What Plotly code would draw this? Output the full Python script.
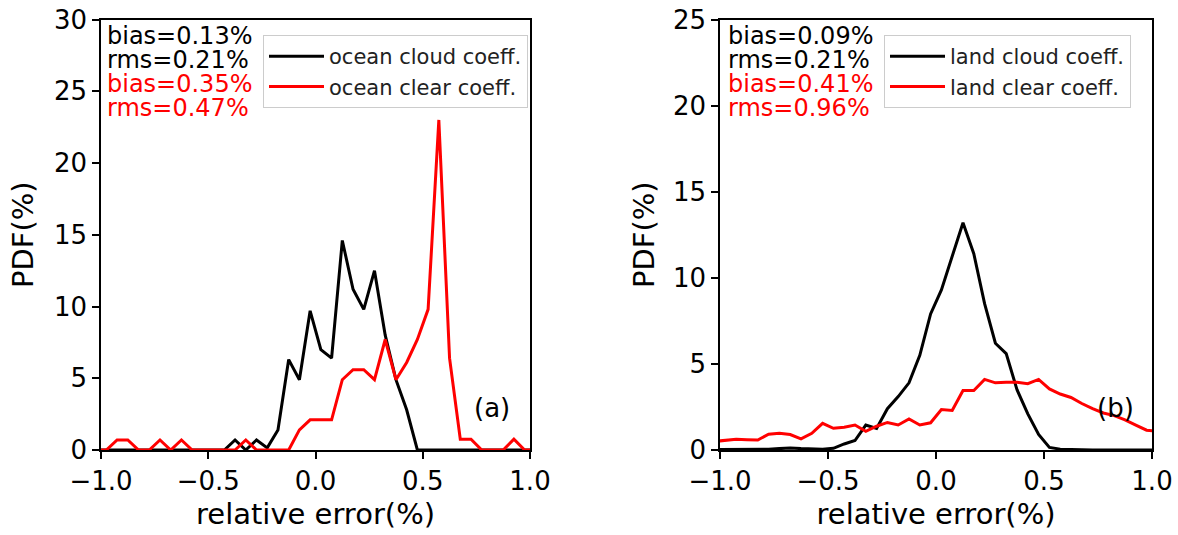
import plotly.graph_objects as go

# ---------------- data ----------------
bin_centers = [-1.025, -0.975, -0.925, -0.875, -0.825, -0.775, -0.725, -0.675, -0.625, -0.575,
               -0.525, -0.475, -0.425, -0.375, -0.325, -0.275, -0.225, -0.175, -0.125, -0.075,
               -0.025, 0.025, 0.075, 0.125, 0.175, 0.225, 0.275, 0.325, 0.375, 0.425,
               0.475, 0.525, 0.575, 0.625, 0.675, 0.725, 0.775, 0.825, 0.875, 0.925,
               0.975, 1.025]

ocean_cloud = [0, 0, 0, 0, 0, 0, 0, 0, 0, 0,
               0, 0, 0, 0.7, 0, 0.7, 0.15, 1.4, 6.3, 4.9,
               9.7, 7.0, 6.4, 14.6, 11.2, 9.8, 12.5, 8.0, 4.9, 2.8,
               0, 0, 0, 0, 0, 0, 0, 0, 0, 0,
               0, 0]
ocean_clear = [0, 0, 0.7, 0.7, 0, 0, 0.7, 0, 0.7, 0,
               0, 0, 0, 0, 0.7, 0, 0, 0, 0, 1.4,
               2.1, 2.1, 2.1, 4.9, 5.6, 5.6, 4.9, 7.7, 4.9, 6.1,
               7.7, 9.8, 23.0, 6.4, 0.75, 0.75, 0, 0, 0, 0.75,
               0, 0]
land_cloud = [0.02, 0.02, 0.02, 0.02, 0.03, 0.05, 0.08, 0.12, 0.08, 0.08,
              0.05, 0.1, 0.35, 0.55, 1.45, 1.25, 2.4, 3.1, 3.9, 5.5,
              7.9, 9.3, 11.2, 13.2, 11.4, 8.5, 6.2, 5.6, 3.5, 2.1,
              0.9, 0.15, 0.05, 0.02, 0.01, 0, 0, 0, 0, 0,
              0, 0]
land_clear = [0.5, 0.55, 0.62, 0.6, 0.58, 0.92, 0.97, 0.9, 0.65, 0.97,
              1.55, 1.26, 1.32, 1.45, 1.08, 1.38, 1.6, 1.45, 1.8, 1.45,
              1.58, 2.35, 2.3, 3.45, 3.45, 4.1, 3.9, 3.93, 3.93, 3.85,
              4.1, 3.55, 3.25, 3.05, 2.7, 2.4, 2.15, 2.0, 1.75, 1.45,
              1.15, 1.1]

series_names_a = ["ocean cloud coeff.", "ocean clear coeff."]
series_names_b = ["land cloud coeff.", "land clear coeff."]
stats_a = ["bias=0.13%", "rms=0.21%", "bias=0.35%", "rms=0.47%"]
stats_b = ["bias=0.09%", "rms=0.21%", "bias=0.41%", "rms=0.96%"]
stats_colors = ["black", "black", "red", "red"]

x_tick_vals = [-1.0, -0.5, 0.0, 0.5, 1.0]
x_tick_text = ["\u22121.0", "\u22120.5", "0.0", "0.5", "1.0"]
y_ticks_a = [0, 5, 10, 15, 20, 25, 30]
y_ticks_b = [0, 5, 10, 15, 20, 25]
x_title = "relative error(%)"
y_title = "PDF(%)"

# ---------------- layout helpers ----------------
W, H = 1178, 535
FONT = "DejaVu Sans"


def pxx(x):
    return x / W


def pyy(y):
    return (H - y) / H


fig = go.Figure()
fig.add_trace(go.Scatter(x=bin_centers, y=ocean_cloud, mode="lines", name=series_names_a[0],
                         line=dict(color="black", width=3), xaxis="x", yaxis="y", legend="legend"))
fig.add_trace(go.Scatter(x=bin_centers, y=ocean_clear, mode="lines", name=series_names_a[1],
                         line=dict(color="red", width=3), xaxis="x", yaxis="y", legend="legend"))
fig.add_trace(go.Scatter(x=bin_centers, y=land_cloud, mode="lines", name=series_names_b[0],
                         line=dict(color="black", width=3), xaxis="x2", yaxis="y2", legend="legend2"))
fig.add_trace(go.Scatter(x=bin_centers, y=land_clear, mode="lines", name=series_names_b[1],
                         line=dict(color="red", width=3), xaxis="x2", yaxis="y2", legend="legend2"))

axis_common = dict(showgrid=False, zeroline=False, showline=True, mirror=True,
                   linecolor="black", linewidth=1.5, ticks="outside", ticklen=7,
                   tickwidth=1.5, tickcolor="black", automargin=False,
                   tickfont=dict(family=FONT, size=26, color="black"))

ydom = [pyy(450), pyy(19.5)]
title_font = dict(family=FONT, size=29, color="black")

fig.update_layout(
    width=W, height=H,
    margin=dict(l=0, r=0, t=0, b=0, autoexpand=False),
    paper_bgcolor="white", plot_bgcolor="white",
    font=dict(family=FONT, color="black"),
    xaxis=dict(domain=[pxx(101), pxx(530)], range=[-1, 1], anchor="y",
               tickvals=x_tick_vals, ticktext=x_tick_text,
               title=dict(text=x_title, font=title_font, standoff=9),
               **axis_common),
    yaxis=dict(domain=ydom, range=[0, 30], anchor="x", tickvals=y_ticks_a,
               title=dict(text=y_title, font=title_font, standoff=12),
               **axis_common),
    xaxis2=dict(domain=[pxx(720), pxx(1152)], range=[-1, 1], anchor="y2",
                tickvals=x_tick_vals, ticktext=x_tick_text,
                title=dict(text=x_title, font=title_font, standoff=9),
                **axis_common),
    yaxis2=dict(domain=ydom, range=[0, 25], anchor="x2", tickvals=y_ticks_b,
                title=dict(text=y_title, font=title_font, standoff=10),
                **axis_common),
    legend=dict(x=pxx(263), y=pyy(35), xanchor="left", yanchor="top",
                bgcolor="rgba(255,255,255,0.8)", bordercolor="#cccccc", borderwidth=1,
                itemwidth=55,
                font=dict(family=FONT, size=21, color="#222222")),
    legend2=dict(x=pxx(884), y=pyy(35), xanchor="left", yanchor="top",
                 bgcolor="rgba(255,255,255,0.8)", bordercolor="#cccccc", borderwidth=1,
                 itemwidth=55,
                 font=dict(family=FONT, size=21, color="#222222")),
    showlegend=True,
)

annotations = []
line_y = [36, 60, 84, 108]
for txts, x0 in ((stats_a, 106), (stats_b, 727)):
    for t, c, yy in zip(txts, stats_colors, line_y):
        annotations.append(dict(text=t, x=pxx(x0), y=pyy(yy), xref="paper", yref="paper",
                                xanchor="left", yanchor="middle", showarrow=False, borderpad=0,
                                font=dict(family=FONT, size=24, color=c)))
annotations.append(dict(text="(a)", x=pxx(492), y=pyy(408), xref="paper", yref="paper",
                        xanchor="center", yanchor="middle", showarrow=False,
                        font=dict(family=FONT, size=26, color="black")))
annotations.append(dict(text="(b)", x=pxx(1115), y=pyy(408), xref="paper", yref="paper",
                        xanchor="center", yanchor="middle", showarrow=False,
                        font=dict(family=FONT, size=26, color="black")))
fig.update_layout(annotations=annotations)

fig.write_html("out.html",
               config={"displayModeBar": False},
               post_script="document.body.style.margin='0';document.body.style.padding='0';")
